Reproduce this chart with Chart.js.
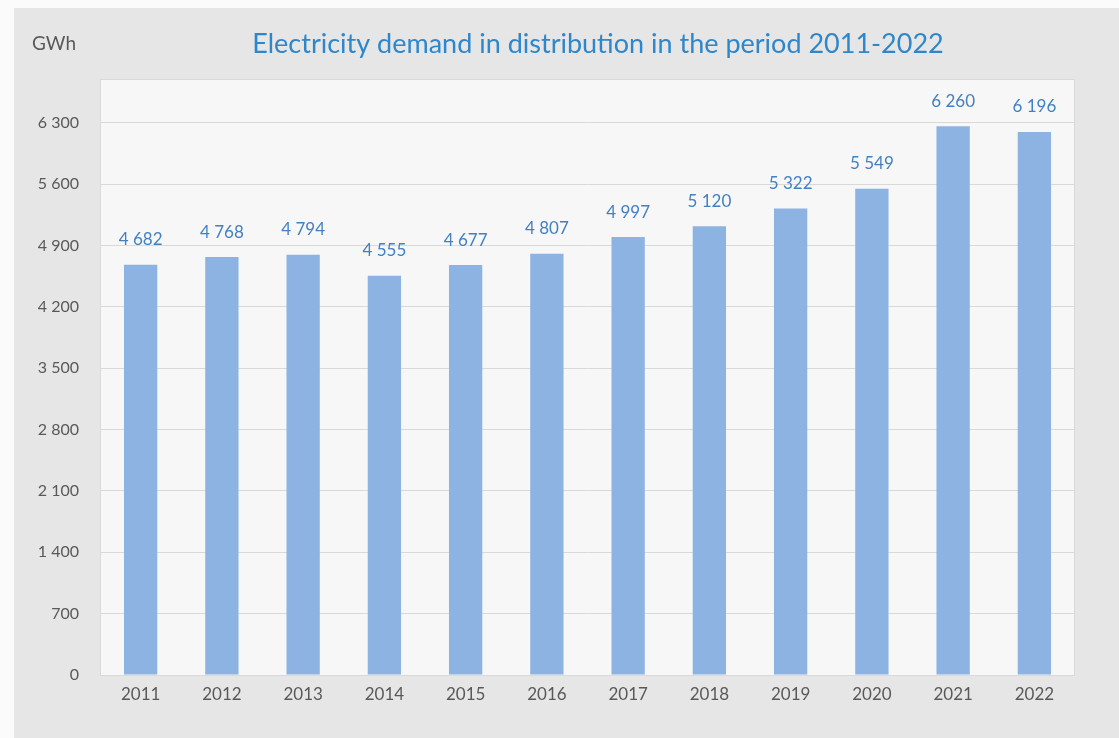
<!DOCTYPE html>
<html>
<head>
<meta charset="utf-8">
<script src="https://cdn.jsdelivr.net/npm/chart.js@4"></script>
<style>
  html, body { margin: 0; padding: 0; background: #fbfbfb; }
  canvas { display: block; }
</style>
</head>
<body>
<canvas id="demand" width="1119" height="738"></canvas>
<script>
var years = ['2011', '2012', '2013', '2014', '2015', '2016', '2017', '2018', '2019', '2020', '2021', '2022'];
var demand = [4682, 4768, 4794, 4555, 4677, 4807, 4997, 5120, 5322, 5549, 6260, 6196];
var yTicks = [0, 700, 1400, 2100, 2800, 3500, 4200, 4900, 5600, 6300];
var titleText = 'Electricity demand in distribution in the period 2011-2022';
var unitText = 'GWh';

var FONT = 'Lato, "Noto Sans", sans-serif';

function fmt(v) {
    // space as thousands separator
    return String(v).replace(/\B(?=(\d{3})+(?!\d))/g, ' ');
}

var frame = {
    id: 'frame',
    beforeDraw: function(chart) {
        var ctx = chart.ctx, a = chart.chartArea;
        ctx.save();
        ctx.fillStyle = '#fbfbfb';
        ctx.fillRect(0, 0, chart.width, chart.height);
        ctx.fillStyle = '#e6e6e6';
        ctx.fillRect(14, 8, chart.width - 14, chart.height - 8);
        ctx.fillStyle = '#f7f7f7';
        ctx.fillRect(a.left, a.top, a.right - a.left, a.bottom - a.top);
        ctx.restore();
    },
    afterDraw: function(chart) {
        var ctx = chart.ctx, a = chart.chartArea;
        ctx.save();
        ctx.strokeStyle = '#d9d9d9';
        ctx.lineWidth = 1;
        ctx.strokeRect(a.left + 0.5, a.top + 0.5, a.right - a.left - 1, a.bottom - a.top);
        // title and unit
        ctx.fillStyle = '#2e86cb';
        ctx.font = '27px ' + FONT;
        ctx.textAlign = 'center';
        ctx.textBaseline = 'middle';
        ctx.fillText(titleText, 598, 44);
        ctx.fillStyle = '#595959';
        ctx.font = '19px ' + FONT;
        ctx.textAlign = 'left';
        ctx.fillText(unitText, 32, 44);
        ctx.restore();
    },
    afterDatasetsDraw: function(chart) {
        var ctx = chart.ctx;
        var bars = chart.getDatasetMeta(0).data;
        ctx.save();
        ctx.fillStyle = '#4380c2';
        ctx.font = '17px ' + FONT;
        ctx.textAlign = 'center';
        ctx.textBaseline = 'middle';
        bars.forEach(function(bar, i) {
            ctx.fillText(fmt(demand[i]), bar.x, bar.y - 25);
        });
        ctx.restore();
    }
};

new Chart(document.getElementById('demand').getContext('2d'), {
    type: 'bar',
    data: {
        labels: years,
        datasets: [{
            label: 'Electricity demand',
            data: demand,
            backgroundColor: '#8db3e2',
            borderWidth: 0,
            categoryPercentage: 1,
            barPercentage: 0.41
        }]
    },
    options: {
        responsive: false,
        animation: false,
        layout: { padding: { top: 79, left: 0, right: 44, bottom: 0 } },
        plugins: {
            legend: { display: false },
            title: { display: false },
            tooltip: { enabled: false }
        },
        scales: {
            x: {
                grid: { display: false, drawTicks: false },
                border: { display: false },
                ticks: { color: '#595959', font: { family: FONT, size: 17 }, padding: 9 },
                afterFit: function(s) { s.height = 63; }
            },
            y: {
                min: 0,
                max: 6800,
                afterBuildTicks: function(s) {
                    s.ticks = yTicks.map(function(v) { return { value: v }; });
                },
                grid: { color: '#d9d9d9', drawTicks: false },
                border: { display: false },
                ticks: {
                    color: '#595959',
                    font: { family: FONT, size: 16 },
                    padding: 21,
                    callback: function(v) { return fmt(v); }
                },
                afterFit: function(s) { s.width = 100; }
            }
        }
    },
    plugins: [frame]
});
</script>
</body>
</html>
